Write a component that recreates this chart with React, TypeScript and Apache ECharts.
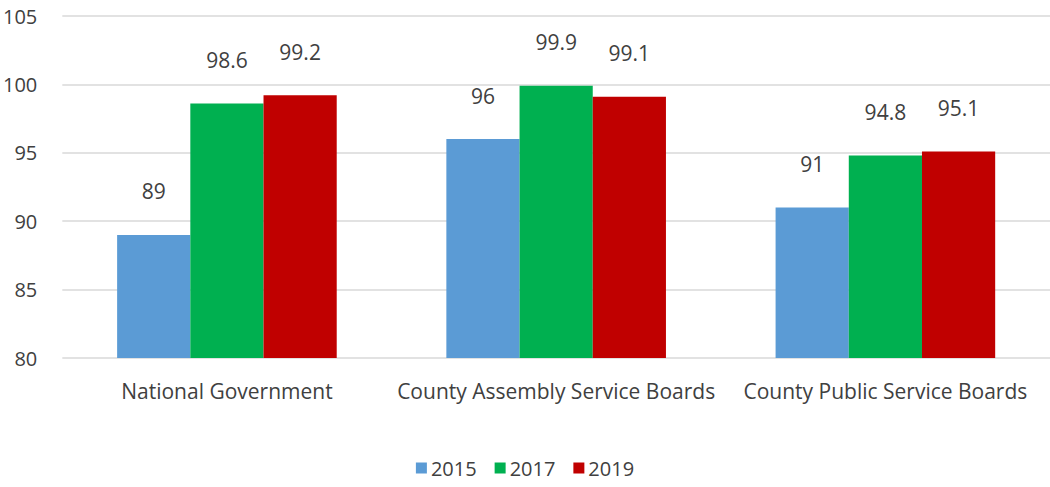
import React, { useEffect, useRef } from "react";
import * as echarts from "echarts";

const categories = ["National Government", "County Assembly Service Boards", "County Public Service Boards"];
const years = ["2015", "2017", "2019"];
const values2015 = [89, 96, 91];
const values2017 = [98.6, 99.9, 94.8];
const values2019 = [99.2, 99.1, 95.1];
const colors = ["#5B9BD5", "#00B050", "#C00000"];

const FONT = "'Open Sans', sans-serif";
const TEXT = "#404040";

export default function App() {
  const ref = useRef<HTMLDivElement>(null);
  useEffect(() => {
    document.body.style.margin = "0";
    const chart = echarts.init(ref.current!, undefined, { renderer: "svg" });
    const seriesData = [values2015, values2017, values2019];
    chart.setOption({
      animation: false,
      textStyle: { fontFamily: FONT },
      grid: { left: 60, right: 0, top: 16, bottom: 129, containLabel: false },
      legend: {
        bottom: 4,
        left: "center",
        itemWidth: 11,
        itemHeight: 11,
        itemGap: 18,
        icon: "rect",
        textStyle: { fontFamily: FONT, fontSize: 20, color: TEXT, padding: [0, 0, 0, -1] },
        data: years,
      },
      xAxis: {
        type: "category",
        data: categories,
        axisLine: { show: false },
        axisTick: { show: false },
        axisLabel: { fontFamily: FONT, fontSize: 21, color: TEXT, margin: 22, interval: 0 },
      },
      yAxis: {
        type: "value",
        min: 80,
        max: 105,
        interval: 5,
        axisLine: { show: false },
        axisTick: { show: false },
        splitLine: { lineStyle: { color: "#D9D9D9", width: 1.5 } },
        axisLabel: { fontFamily: FONT, fontSize: 20, color: TEXT, margin: 25 },
      },
      series: years.map((y, i) => ({
        name: y,
        type: "bar",
        data: seriesData[i],
        barGap: "0%",
        barCategoryGap: "33.3%",
        itemStyle: { color: colors[i] },
        label: {
          show: true,
          position: "top",
          distance: 33,
          fontFamily: FONT,
          fontSize: 21,
          color: TEXT,
        },
      })),
    });
    return () => chart.dispose();
  }, []);
  return <div ref={ref} style={{ width: 1050, height: 487 }} />;
}
